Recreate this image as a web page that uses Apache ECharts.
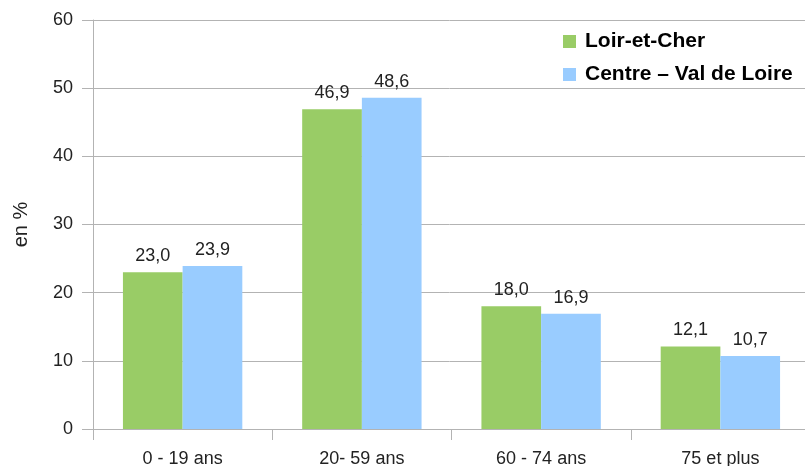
<!DOCTYPE html>
<html>
<head>
<meta charset="utf-8">
<script src="https://cdn.jsdelivr.net/npm/echarts@6/dist/echarts.min.js"></script>
<style>html,body{margin:0;padding:0;background:#fff}#c{width:805px;height:466px}</style>
</head>
<body>
<div id="c"></div>
<script>
var categories = ['0 - 19 ans', '20- 59 ans', '60 - 74 ans', '75 et plus'];
var loirEtCher = [23.0, 46.9, 18.0, 12.1];
var centreVdl = [23.9, 48.6, 16.9, 10.7];
var seriesNames = ['Loir-et-Cher', 'Centre – Val de Loire'];
var yTicks = [0, 10, 20, 30, 40, 50, 60];

var chart = echarts.init(document.getElementById('c'), null, {renderer: 'canvas'});
var fmt = function (p) { return p.value.toFixed(1).replace('.', ','); };
var font = 'Liberation Sans, Arial, sans-serif';
chart.setOption({
  animation: false,
  textStyle: {fontFamily: font},
  grid: {left: 93, width: 717, top: 20, bottom: 37, containLabel: false, outerBoundsMode: 'none'},
  legend: {
    orient: 'vertical', left: 563, top: 31, padding: 0,
    itemWidth: 13, itemHeight: 13, itemGap: 12,
    icon: 'rect',
    textStyle: {fontSize: 21, fontWeight: 'bold', color: '#000', fontFamily: font, padding: [0, 0, 0, 4]},
    data: seriesNames
  },
  xAxis: {
    type: 'category', data: categories,
    axisLine: {lineStyle: {color: '#b3b3b3'}},
    axisTick: {show: true, length: 11, lineStyle: {color: '#b3b3b3'}},
    axisLabel: {fontSize: 18, color: '#222', margin: 21, fontFamily: font}
  },
  yAxis: {
    type: 'value', min: yTicks[0], max: yTicks[yTicks.length - 1], interval: 10,
    name: 'en %', nameLocation: 'middle', nameGap: 62, nameRotate: 90,
    nameTextStyle: {fontSize: 20, color: '#222', fontFamily: font},
    axisLine: {show: true, lineStyle: {color: '#b3b3b3'}},
    axisTick: {show: true, length: 11, lineStyle: {color: '#b3b3b3'}},
    axisLabel: {fontSize: 18, color: '#222', margin: 20, fontFamily: font},
    splitLine: {lineStyle: {color: '#b3b3b3'}}
  },
  series: [
    {
      name: seriesNames[0], type: 'bar', data: loirEtCher,
      barGap: '0%', barCategoryGap: '33.4%',
      itemStyle: {color: '#99cc66'},
      label: {show: true, position: 'top', distance: 7, fontSize: 18, color: '#222', formatter: fmt, fontFamily: font}
    },
    {
      name: seriesNames[1], type: 'bar', data: centreVdl,
      barGap: '0%', barCategoryGap: '33.4%',
      itemStyle: {color: '#99ccff'},
      label: {show: true, position: 'top', distance: 7, fontSize: 18, color: '#222', formatter: fmt, fontFamily: font}
    }
  ]
});
</script>
</body>
</html>
